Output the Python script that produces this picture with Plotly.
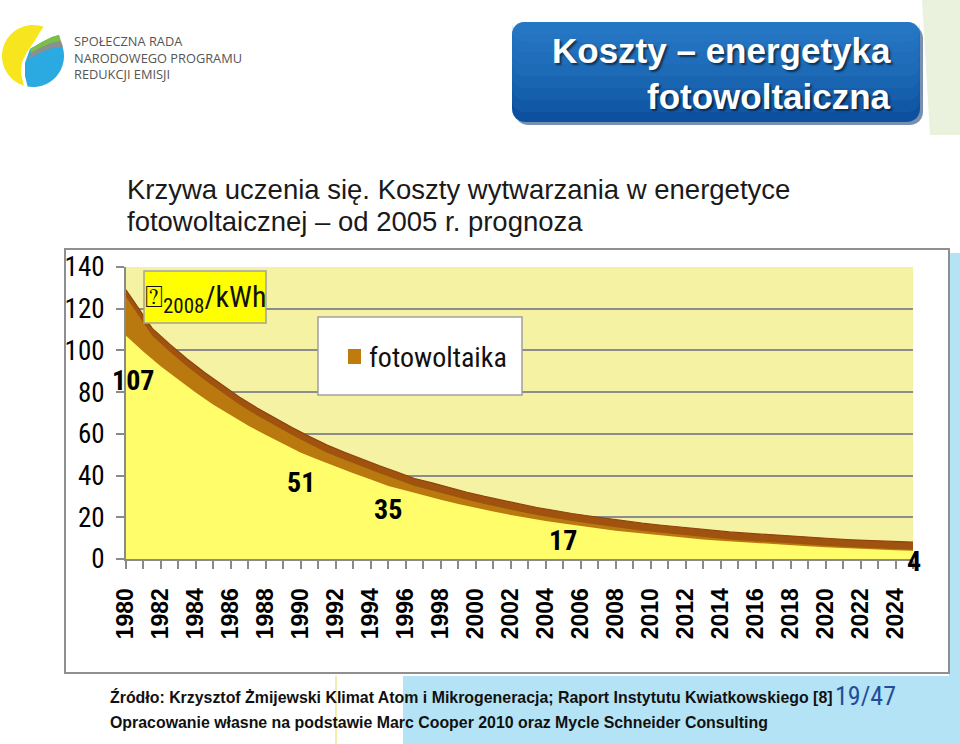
import numpy as np
import plotly.graph_objects as go

# ---------------- data ----------------
years = list(range(1980, 2026))
cost = [107.0, 99.4, 92.3, 85.8, 79.7, 74.0, 68.8, 63.9, 59.4, 55.1,
        51.0, 47.6, 44.2, 41.1, 38.1, 35.0, 32.9, 30.6, 28.4, 26.4,
        24.5, 22.8, 21.1, 19.6, 18.2, 17.0, 15.8, 14.6, 13.6, 12.7,
        11.8, 10.9, 10.2, 9.4, 8.8, 8.2, 7.6, 7.0, 6.5, 6.1,
        5.6, 5.2, 4.9, 4.5, 4.2, 4.0]
label_years = [1980, 1990, 1995, 2005, 2025]
label_text = ["107", "51", "35", "17", "4"]
ribbon_left_edge = [125.6, 129.0]   # ribbon mid / top at the left plot edge
x_ticks = list(range(1980, 2025, 2))
y_ticks = list(range(0, 141, 20))
series_name = "fotowoltaika"

# ---------------- geometry helpers ----------------
W, H = 960, 744
ML, MR, MT, MB = 126, 47, 267, 185
PW, PH = W - ML - MR, H - MT - MB


def px(x):
    return (x - ML) / PW


def py(y):
    return (H - MB - y) / PH


def path(points, close=True):
    s = "M " + " L ".join(f"{px(x):.5f},{py(y):.5f}" for x, y in points)
    return s + (" Z" if close else "")


def rect(x0, y0, x1, y1, fill, line=None, lw=0, layer="below", opacity=1):
    return dict(type="rect", xref="paper", yref="paper",
                x0=px(x0), x1=px(x1), y0=py(y1), y1=py(y0),
                fillcolor=fill, layer=layer, opacity=opacity,
                line=dict(color=line or fill, width=lw))


def rounded(x0, y0, x1, y1, r):
    pts = []
    for cx, cy, a0 in [(x1 - r, y0 + r, -90), (x1 - r, y1 - r, 0),
                       (x0 + r, y1 - r, 90), (x0 + r, y0 + r, 180)]:
        for a in np.linspace(a0, a0 + 90, 7):
            pts.append((cx + r * np.cos(np.radians(a)), cy + r * np.sin(np.radians(a))))
    return pts


NARROW = "Liberation Sans Narrow, Arial Narrow, Roboto Condensed, Liberation Sans, sans-serif"
ARIAL = "Liberation Sans, Arial, sans-serif"

# ribbon depth (style)
dx_years, dy_units = 1.5, 3.6

fig = go.Figure()
shift_x = [1980] + [y + dx_years for y in years]
fig.add_trace(go.Scatter(x=shift_x, y=[ribbon_left_edge[1]] + [v + dy_units for v in cost],
                         mode="lines", line=dict(width=1.2, color="#8E440C"),
                         fill="tozeroy", fillcolor="#A0520F", showlegend=False, hoverinfo="skip"))
fig.add_trace(go.Scatter(x=shift_x, y=[ribbon_left_edge[0]] + cost,
                         mode="lines", line=dict(width=0, color="#B9790F"),
                         fill="tozeroy", fillcolor="#B9790F", showlegend=False, hoverinfo="skip"))
fig.add_trace(go.Scatter(x=years, y=cost, name=series_name,
                         mode="lines", line=dict(width=0, color="#FFFD6A"),
                         fill="tozeroy", fillcolor="#FFFD6A", showlegend=False, hoverinfo="skip"))

shapes = []
# slide decorations
shapes.append(dict(type="path", xref="paper", yref="paper",
                   path=path([(922, 0), (960, 0), (960, 135), (930, 135)]),
                   fillcolor="#EAF2DE", line=dict(width=0), layer="below"))
shapes.append(rect(403, 676, 960, 744, "#B4E3F5"))
shapes.append(rect(949, 253, 960, 744, "#B4E3F5"))
shapes.append(dict(type="line", xref="paper", yref="paper", x0=px(336), x1=px(336),
                   y0=py(676), y1=py(744), line=dict(color="#F3EDB0", width=2), layer="below"))
# chart frame and plot background
shapes.append(rect(65, 249, 949, 673, "white", "#8F8F8F", 2))
shapes.append(rect(ML, MT, W - MR, H - MB, "#F6F2A4"))
# title box (shadow, base, soft gradient)
shapes.append(dict(type="path", xref="paper", yref="paper",
                   path=path(rounded(515, 25, 923, 125, 13)),
                   fillcolor="#7890B0", line=dict(width=0), layer="below"))
shapes.append(dict(type="path", xref="paper", yref="paper",
                   path=path(rounded(512, 22, 920, 122, 13)),
                   fillcolor="#0C509F", line=dict(width=0), layer="below"))
for yb in [112, 100, 88, 76, 64, 52, 42, 34]:
    shapes.append(dict(type="path", xref="paper", yref="paper",
                       path=path(rounded(512, 22, 920, yb, 12)), opacity=0.17,
                       fillcolor="#2E80D0", line=dict(width=0), layer="below"))
# logo
cx, cy, r = 33, 56, 31
ang = np.radians(np.linspace(-70, -260, 40))
yellow = [(cx + r * np.cos(a), cy + r * np.sin(a)) for a in ang]
yellow += [(24, 86), (21, 73), (22, 62), (27, 52), (34, 42), (40, 32)]
shapes.append(dict(type="path", xref="paper", yref="paper", path=path(yellow),
                   fillcolor="#F7E51E", line=dict(width=0), layer="below"))
ang2 = np.radians(np.linspace(-30, 100, 30))
blue = [(30, 49), (42, 42), (52, 37), (59, 35)]
blue += [(cx + r * np.cos(a), cy + r * np.sin(a)) for a in ang2]
blue += [(25, 76), (25, 63)]
shapes.append(dict(type="path", xref="paper", yref="paper", path=path(blue),
                   fillcolor="#2BA9E1", line=dict(width=0), layer="below"))
shapes.append(dict(type="path", xref="paper", yref="paper",
                   path=path([(30, 49), (42, 42), (52, 37), (59, 35), (61, 41), (52, 43), (42, 47), (31, 53)]),
                   fillcolor="#7DBE45", line=dict(width=0), layer="below"))
shapes.append(dict(type="path", xref="paper", yref="paper",
                   path=path([(31, 53), (42, 47), (52, 43), (61, 41), (63, 47), (52, 48), (42, 52), (28, 59)]),
                   fillcolor="#8E8E8E", line=dict(width=0), layer="below"))
# unit box and legend box
shapes.append(rect(144, 271, 266, 323, "#FFFF00", "#A3A3A3", 1.5, layer="above"))
shapes.append(rect(318, 317, 522, 395, "white", "#A0A0A0", 1.5, layer="above"))
shapes.append(rect(348, 349, 361, 364, "#BF7B0B", layer="above"))

ann = []


def text(x, y, s, size, family=ARIAL, color="#111", anchor="left", weight="normal", shadow="none",
         yanchor="middle"):
    ann.append(dict(xref="paper", yref="paper", x=px(x), y=py(y), text=s, showarrow=False,
                    xanchor=anchor, yanchor=yanchor, align=anchor if anchor != "center" else "center",
                    font=dict(size=size, family=family, color=color, weight=weight, shadow=shadow)))


# logo text (one block)
text(72, 58, "SPOŁECZNA RADA<br>NARODOWEGO PROGRAMU<br>REDUKCJI EMISJI", 12.8,
     family="Open Sans, sans-serif", color="#555555")
# title
text(893, 50, "Koszty – energetyka", 35, weight="bold", color="white", anchor="right",
     shadow="2px 2px 2px rgba(0,0,0,0.55)")
text(893, 97, "fotowoltaiczna", 35, weight="bold", color="white", anchor="right",
     shadow="2px 2px 2px rgba(0,0,0,0.55)")
# subtitle
text(125, 189, "Krzywa uczenia się. Koszty wytwarzania w energetyce", 27.5, color="#1A1A1A")
text(125, 221, "fotowoltaicznej – od 2005 r. prognoza", 27.5, color="#1A1A1A")
# unit label
text(205, 298, "⍰<sub>2008</sub>/kWh", 30, family=NARROW, color="#111", anchor="center")
# legend text
text(367, 357, series_name, 28, family=NARROW, color="#111")
# footer
text(108, 697, "Źródło: Krzysztof Żmijewski Klimat Atom i Mikrogeneracja; Raport Instytutu Kwiatkowskiego [8]",
     15.9, color="#111", weight="bold")
text(108, 722, "Opracowanie własne na podstawie Marc Cooper 2010 oraz Mycle Schneider Consulting",
     15.9, color="#111", weight="bold")
text(898, 696, "19/47", 26, family=NARROW, color="#1F4E9A", anchor="right")

# data labels
offsets = {1980: (7, -45), 1990: (0, -30), 1995: (0, -23), 2005: (0, -17), 2025: (1, -11)}
for yr, t in zip(label_years, label_text):
    v = cost[years.index(yr)]
    ann.append(dict(xref="x", yref="y", x=yr, y=v, text=t, showarrow=False,
                    xshift=offsets[yr][0], yshift=offsets[yr][1],
                    font=dict(size=28, family=NARROW, color="#000", weight="bold")))

fig.update_layout(
    width=W, height=H,
    margin=dict(l=ML, r=MR, t=MT, b=MB),
    paper_bgcolor="white", plot_bgcolor="rgba(0,0,0,0)",
    shapes=shapes, annotations=ann, showlegend=False,
    xaxis=dict(range=[1980, 2025], tickmode="array", tickvals=x_ticks,
               ticktext=[str(t) for t in x_ticks], tickangle=-90,
               ticks="outside", ticklen=8, tickwidth=1.5, tickcolor="#8A8A8A",
               minor=dict(dtick=1, ticks="outside", ticklen=8, tickwidth=1.5,
                          tickcolor="#8A8A8A", showgrid=False),
               showgrid=False, zeroline=False, showline=True, linecolor="#8A8A8A", linewidth=2,
               tickfont=dict(size=23, family=ARIAL, color="#000", weight="bold"),
               ticklabelstandoff=10, fixedrange=True),
    yaxis=dict(range=[0, 140], tickmode="array", tickvals=y_ticks,
               ticks="outside", ticklen=8, tickwidth=1.5, tickcolor="#8A8A8A",
               showgrid=True, gridcolor="#8C8C8C", gridwidth=1.5,
               zeroline=False, showline=True, linecolor="#8A8A8A", linewidth=2,
               tickfont=dict(size=27, family=NARROW, color="#000"),
               ticklabelstandoff=6, fixedrange=True),
)

fig.write_html("out.html", config={"displayModeBar": False},
               post_script="document.body.style.margin='0px';")
